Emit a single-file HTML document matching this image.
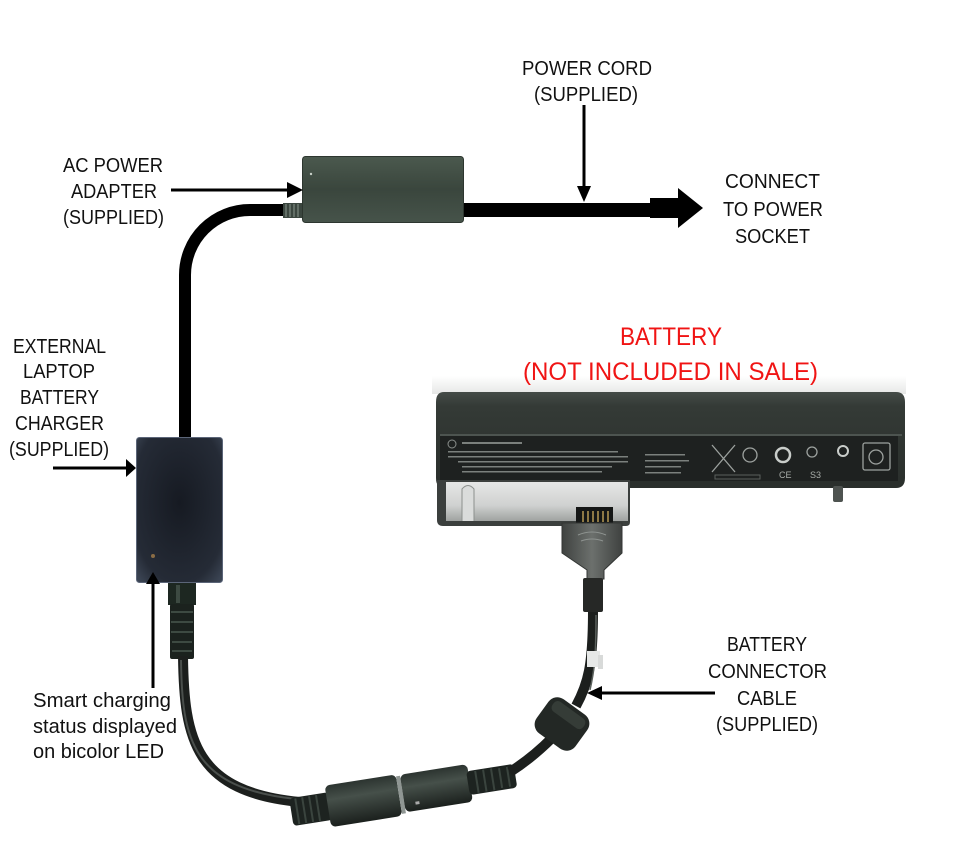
<!DOCTYPE html>
<html><head><meta charset="utf-8"><style>
html,body{margin:0;padding:0;background:#fff;}
svg{display:block;}
text{font-family:"Liberation Sans",sans-serif;}
</style></head><body>
<svg width="960" height="845" viewBox="0 0 960 845" xmlns="http://www.w3.org/2000/svg">
<defs>
<linearGradient id="adp" x1="0" y1="0" x2="0" y2="1">
<stop offset="0" stop-color="#4b594e"/><stop offset="0.5" stop-color="#3a463d"/><stop offset="1" stop-color="#46534a"/>
</linearGradient>
<radialGradient id="chg" cx="0.5" cy="0.45" r="0.7">
<stop offset="0" stop-color="#161a22"/><stop offset="0.8" stop-color="#252b36"/><stop offset="1" stop-color="#3a4352"/>
</radialGradient>
<linearGradient id="bat" x1="0" y1="0" x2="0" y2="1">
<stop offset="0" stop-color="#454c48"/><stop offset="0.15" stop-color="#343a36"/><stop offset="1" stop-color="#2a2f2c"/>
</linearGradient>
<linearGradient id="silv" x1="0" y1="0" x2="0" y2="1">
<stop offset="0" stop-color="#e6e7e6"/><stop offset="0.6" stop-color="#cfd1d0"/><stop offset="1" stop-color="#9fa2a0"/>
</linearGradient>
<linearGradient id="plug" x1="0" y1="0" x2="1" y2="0">
<stop offset="0" stop-color="#3f4240"/><stop offset="0.5" stop-color="#6c706d"/><stop offset="1" stop-color="#3f4240"/>
</linearGradient>
<linearGradient id="barrel" x1="0" y1="0" x2="0" y2="1">
<stop offset="0" stop-color="#2c3430"/><stop offset="0.35" stop-color="#46504a"/><stop offset="1" stop-color="#1b201d"/>
</linearGradient>
<linearGradient id="shade" x1="0" y1="0" x2="0" y2="1">
<stop offset="0" stop-color="#ffffff"/><stop offset="1" stop-color="#e6e7e6"/>
</linearGradient>
</defs>
<rect width="960" height="845" fill="#fff"/>

<!-- shadow above battery (behind text) -->
<rect x="432" y="376" width="474" height="18" fill="url(#shade)"/>

<!-- Labels (black) -->
<g fill="#111" font-size="20">
<text x="63" y="172" textLength="100" lengthAdjust="spacingAndGlyphs">AC POWER</text>
<text x="71" y="198" textLength="86" lengthAdjust="spacingAndGlyphs">ADAPTER</text>
<text x="63" y="224" textLength="101" lengthAdjust="spacingAndGlyphs">(SUPPLIED)</text>

<text x="522" y="75" textLength="130" lengthAdjust="spacingAndGlyphs">POWER CORD</text>
<text x="534" y="101" textLength="104" lengthAdjust="spacingAndGlyphs">(SUPPLIED)</text>

<text x="725" y="188" textLength="95" lengthAdjust="spacingAndGlyphs">CONNECT</text>
<text x="723" y="216" textLength="100" lengthAdjust="spacingAndGlyphs">TO POWER</text>
<text x="735" y="243" textLength="75" lengthAdjust="spacingAndGlyphs">SOCKET</text>

<text x="13" y="353" textLength="93" lengthAdjust="spacingAndGlyphs">EXTERNAL</text>
<text x="23" y="378" textLength="72" lengthAdjust="spacingAndGlyphs">LAPTOP</text>
<text x="20" y="404" textLength="79" lengthAdjust="spacingAndGlyphs">BATTERY</text>
<text x="15" y="430" textLength="89" lengthAdjust="spacingAndGlyphs">CHARGER</text>
<text x="9" y="456" textLength="100" lengthAdjust="spacingAndGlyphs">(SUPPLIED)</text>

<text x="33" y="707" textLength="138" lengthAdjust="spacingAndGlyphs">Smart charging</text>
<text x="33" y="733" textLength="144" lengthAdjust="spacingAndGlyphs">status displayed</text>
<text x="33" y="758" textLength="131" lengthAdjust="spacingAndGlyphs">on bicolor LED</text>

<text x="727" y="651" textLength="80" lengthAdjust="spacingAndGlyphs">BATTERY</text>
<text x="708" y="678" textLength="119" lengthAdjust="spacingAndGlyphs">CONNECTOR</text>
<text x="737" y="705" textLength="60" lengthAdjust="spacingAndGlyphs">CABLE</text>
<text x="716" y="731" textLength="102" lengthAdjust="spacingAndGlyphs">(SUPPLIED)</text>
</g>

<!-- Red text -->
<g fill="#f01414" font-size="25">
<text x="620" y="345" textLength="102" lengthAdjust="spacingAndGlyphs">BATTERY</text>
<text x="523" y="380" textLength="295" lengthAdjust="spacingAndGlyphs">(NOT INCLUDED IN SALE)</text>
</g>

<!-- Adapter-to-charger cable -->
<path d="M290 210 L250 210 A65 65 0 0 0 185 275 L185 440" fill="none" stroke="#000" stroke-width="12"/>
<!-- strain relief at adapter -->
<rect x="283" y="203" width="21" height="15" fill="#3b463f"/>
<g stroke="#8a968d" stroke-width="1">
<line x1="286" y1="204" x2="286" y2="217"/><line x1="290" y1="204" x2="290" y2="217"/><line x1="294" y1="204" x2="294" y2="217"/><line x1="298" y1="204" x2="298" y2="217"/>
</g>

<!-- Power cord -->
<rect x="460" y="203" width="192" height="14" fill="#000"/>
<rect x="650" y="198" width="30" height="20" fill="#000"/>
<polygon points="678,188 703,208 678,228" fill="#000"/>

<!-- AC adapter -->
<rect x="302.5" y="156.5" width="161" height="66" rx="3" fill="url(#adp)" stroke="#2d362f" stroke-width="1"/>
<circle cx="311" cy="174" r="1.2" fill="#c8d0c8"/>

<!-- Arrows -->
<line x1="171" y1="190" x2="289" y2="190" stroke="#000" stroke-width="3"/>
<polygon points="287,182 303,190 287,198" fill="#000"/>
<line x1="584" y1="105" x2="584" y2="188" stroke="#000" stroke-width="3"/>
<polygon points="577,186 591,186 584,202" fill="#000"/>
<line x1="53" y1="468" x2="128" y2="468" stroke="#000" stroke-width="3"/>
<polygon points="126,459 136,468 126,477" fill="#000"/>

<!-- Charger -->
<rect x="136.5" y="437.5" width="86" height="145" rx="3" fill="url(#chg)" stroke="#5b6578" stroke-width="1"/>
<circle cx="153" cy="556" r="2" fill="#8a6c45"/>

<!-- LED arrow -->
<line x1="153" y1="688" x2="153" y2="582" stroke="#000" stroke-width="3"/>
<polygon points="146,584 160,584 153,572" fill="#000"/>

<!-- Charger output connector -->
<rect x="168" y="583" width="28" height="22" fill="#1d2721"/>
<rect x="170" y="604" width="24" height="55" rx="2" fill="#1b221e"/>
<g stroke="#3d4a42" stroke-width="2">
<line x1="171" y1="612" x2="193" y2="612"/><line x1="171" y1="622" x2="193" y2="622"/><line x1="171" y1="632" x2="193" y2="632"/><line x1="172" y1="642" x2="192" y2="642"/><line x1="172" y1="651" x2="192" y2="651"/>
</g>
<rect x="176" y="585" width="4" height="18" fill="#3d4a42"/>

<!-- thin cable to barrel -->
<path d="M183 656 C184 740 195 792 300 802" fill="none" stroke="#1c1f1d" stroke-width="10"/>
<path d="M181 660 C182 740 192 788 296 799" fill="none" stroke="#4a4f4c" stroke-width="2"/>

<!-- barrel connectors (tilted) -->
<g transform="rotate(-9 400 795)">
<rect x="290" y="781" width="40" height="28" rx="4" fill="#1d2320"/>
<g stroke="#3a443e" stroke-width="2">
<line x1="296" y1="782" x2="296" y2="808"/><line x1="303" y1="782" x2="303" y2="808"/><line x1="310" y1="782" x2="310" y2="808"/><line x1="317" y1="782" x2="317" y2="808"/>
</g>
<rect x="327" y="774" width="72" height="42" rx="5" fill="url(#barrel)"/>
<rect x="399" y="776" width="4" height="38" fill="#8f9693"/>
<rect x="403" y="775" width="68" height="38" rx="5" fill="url(#barrel)"/>
<rect x="414" y="804" width="4" height="3" fill="#aaa"/>
<rect x="469" y="782" width="48" height="24" rx="4" fill="#1d2320"/>
<g stroke="#3a443e" stroke-width="2">
<line x1="478" y1="783" x2="478" y2="805"/><line x1="486" y1="783" x2="486" y2="805"/><line x1="494" y1="783" x2="494" y2="805"/><line x1="502" y1="784" x2="502" y2="804"/><line x1="510" y1="784" x2="510" y2="804"/>
</g>
</g>

<!-- cable to ferrite -->
<path d="M510 772 Q532 758 552 738" fill="none" stroke="#1c1f1d" stroke-width="10"/>
<!-- cable from ferrite to plug -->
<path d="M576 706 C588 684 593 666 593 610" fill="none" stroke="#1c1f1d" stroke-width="10"/>
<path d="M590 690 C594 672 596 660 596 615" fill="none" stroke="#5a605c" stroke-width="1.5"/>
<!-- white label band -->
<rect x="587" y="651" width="13" height="16" fill="#e6e8e7"/>
<rect x="598" y="655" width="5" height="14" fill="#d8dad9"/>
<!-- ferrite -->
<rect x="538" y="703" width="48" height="42" rx="11" fill="#232825" transform="rotate(36 562 724)"/>
<rect x="543" y="707" width="38" height="12" rx="5" fill="#353c37" transform="rotate(36 562 724)"/>

<!-- Battery -->
<path d="M444 392 L896 392 Q905 392 905 402 L905 478 Q905 488 896 488 L444 488 Q436 488 436 478 L436 402 Q436 392 444 392 Z" fill="url(#bat)"/>
<rect x="440" y="434" width="462" height="2" fill="#4d5450"/>
<rect x="440" y="436" width="458" height="46" fill="#1e2120"/>
<!-- label markings -->
<g fill="#7b807d">
<circle cx="452" cy="444" r="4" fill="none" stroke="#8a8f8c" stroke-width="1"/>
<rect x="462" y="442" width="60" height="2"/>
<rect x="448" y="451" width="170" height="1.5"/>
<rect x="448" y="456" width="180" height="1.5"/>
<rect x="458" y="461" width="170" height="1.5"/>
<rect x="462" y="466" width="150" height="1.5"/>
<rect x="462" y="471" width="140" height="1.5"/>
<rect x="645" y="454" width="40" height="1.5"/>
<rect x="645" y="460" width="44" height="1.5"/>
<rect x="645" y="466" width="36" height="1.5"/>
<rect x="645" y="472" width="36" height="1.5"/>
</g>
<g fill="none" stroke="#9da29f" stroke-width="1.3">
<line x1="712" y1="445" x2="735" y2="472"/><line x1="735" y1="445" x2="712" y2="472"/>
<circle cx="750" cy="455" r="7"/>
<circle cx="783" cy="455" r="7" stroke-width="2.5" stroke="#c9cdca"/>
<circle cx="812" cy="452" r="5"/>
<circle cx="843" cy="451" r="5" stroke-width="2" stroke="#c9cdca"/>
<rect x="863" y="443" width="27" height="27" rx="2"/>
<circle cx="876" cy="457" r="7"/>
</g>
<g fill="#a8ada9" font-size="9">
<text x="779" y="478">CE</text>
<text x="810" y="478">S3</text>
</g>
<rect x="715" y="475" width="45" height="4" fill="none" stroke="#5a5f5c" stroke-width="1"/>
<!-- lower left extension -->
<path d="M437 480 L630 480 L630 522 Q630 526 626 526 L443 526 Q437 526 437 520 Z" fill="#3b3f3d"/>
<rect x="446" y="482" width="182" height="39" fill="url(#silv)"/>
<path d="M462 521 L462 489 Q468 482 474 489 L474 521" fill="#dadcdb" stroke="#8c908d" stroke-width="1"/>
<rect x="630" y="481" width="270" height="5" fill="#2a2f2c"/>
<!-- peg -->
<rect x="833" y="486" width="10" height="16" rx="2" fill="#4e5350"/>
<!-- plug -->
<rect x="576" y="507" width="37" height="17" fill="#151716"/>
<g stroke="#b79a55" stroke-width="1.5">
<line x1="583" y1="511" x2="583" y2="522"/><line x1="588" y1="511" x2="588" y2="522"/><line x1="593" y1="511" x2="593" y2="522"/><line x1="598" y1="511" x2="598" y2="522"/><line x1="603" y1="511" x2="603" y2="522"/><line x1="608" y1="511" x2="608" y2="522"/>
</g>
<path d="M562 523 L622 523 L622 553 L604 570 L604 579 L587 579 L587 570 L562 553 Z" fill="url(#plug)" stroke="#333634" stroke-width="1"/>
<path d="M578 535 Q592 529 606 535" fill="none" stroke="#8e9390" stroke-width="1"/>
<path d="M581 541 Q592 537 603 541" fill="none" stroke="#8e9390" stroke-width="1"/>
<rect x="583" y="578" width="20" height="34" rx="2" fill="#262826"/>

<!-- Battery connector cable arrow -->
<line x1="600" y1="693" x2="715" y2="693" stroke="#000" stroke-width="3"/>
<polygon points="602,686 587,693 602,700" fill="#000"/>
</svg>
</body></html>
